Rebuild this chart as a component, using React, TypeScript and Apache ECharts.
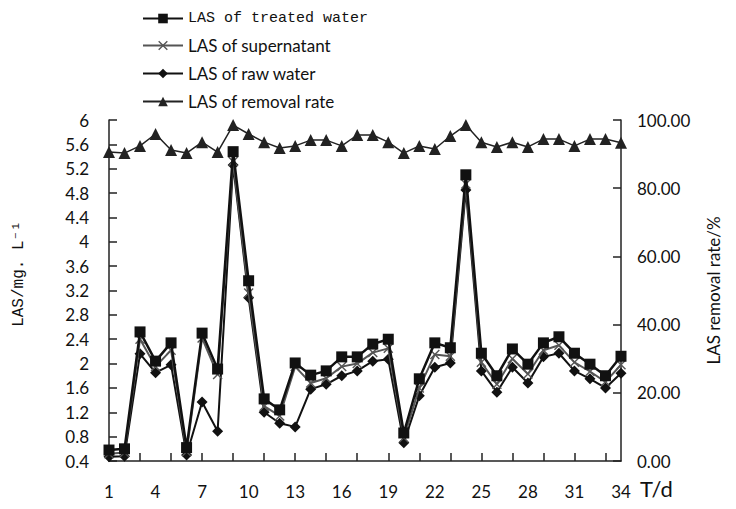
import React, { useEffect, useRef } from "react";
import * as echarts from "echarts";

const days = ["1","2","3","4","5","6","7","8","9","10","11","12","13","14","15","16","17","18","19","20","21","22","23","24","25","26","27","28","29","30","31","32","33","34"];

const treated = [0.58,0.60,2.52,2.04,2.34,0.62,2.50,1.91,5.48,3.36,1.42,1.24,2.01,1.81,1.88,2.11,2.11,2.32,2.40,0.86,1.75,2.34,2.26,5.10,2.17,1.80,2.24,1.99,2.34,2.44,2.17,1.99,1.80,2.12];
const supernatant = [0.52,0.54,2.40,1.95,2.22,0.55,2.42,1.82,5.32,3.16,1.30,1.14,1.95,1.68,1.76,1.95,2.00,2.18,2.25,0.78,1.60,2.15,2.12,4.95,2.02,1.66,2.08,1.83,2.22,2.30,2.02,1.87,1.70,1.98];
const raw = [0.47,0.48,2.16,1.85,1.98,0.50,1.37,0.89,5.26,3.08,1.20,1.02,0.96,1.58,1.66,1.80,1.88,2.04,2.07,0.70,1.47,1.94,2.01,4.85,1.88,1.53,1.94,1.68,2.11,2.17,1.88,1.75,1.60,1.84];
const removalRate = [90.6,90.3,92.4,95.9,91.2,90.3,93.5,90.6,98.5,95.9,93.5,91.8,92.4,94.1,94.1,92.4,95.6,95.6,93.5,90.3,92.4,91.5,95.3,98.5,93.5,92.1,93.5,92.1,94.4,94.4,92.4,94.4,94.4,93.3];

const names = ["LAS of treated water", "LAS of supernatant", "LAS of raw water", "LAS of removal rate"];

const crossPath = "path://M1,0 L5,4 L9,0 L10,1 L6,5 L10,9 L9,10 L5,6 L1,10 L0,9 L4,5 L0,1 Z";

const sans = "Lato, sans-serif";
const mono = "Liberation Mono, monospace";

export default function App() {
  const ref = useRef<HTMLDivElement>(null);
  useEffect(() => {
    if (!ref.current) return;
    const chart = echarts.init(ref.current, undefined, { renderer: "svg" });
    const axisLine = { show: true, lineStyle: { color: "#222", width: 1.5 } };
    const tick = { show: true, inside: true, length: 8, lineStyle: { color: "#222", width: 1.5 } };
    chart.setOption({
      animation: false,
      backgroundColor: "#fff",
      grid: { left: 109, right: 115, top: 120, bottom: 48 },
      legend: {
        orient: "vertical",
        left: 137,
        top: 6,
        itemWidth: 40,
        itemHeight: 12,
        itemGap: 11,
        data: names,
        formatter: (n: string) => (n === names[0] ? `{m|${n}}` : `{s|${n}}`),
        textStyle: {
          color: "#111",
          rich: {
            m: { fontFamily: mono, fontSize: 15, color: "#111", lineHeight: 20, fontWeight: "normal" },
            s: { fontFamily: sans, fontSize: 17, color: "#111", lineHeight: 20 },
          },
        },
      },
      xAxis: {
        type: "category",
        data: days,
        boundaryGap: false,
        axisLine,
        axisTick: { ...tick, interval: (i: number) => i > 0 && i % 2 === 0 && i < 33 },
        axisLabel: { interval: 2, margin: 22, fontSize: 17, color: "#111", fontFamily: sans },
        splitLine: { show: false },
      },
      yAxis: [
        {
          type: "value",
          min: 0.4,
          max: 6,
          interval: 0.4,
          axisLine,
          axisTick: tick,
          splitLine: { show: false },
          axisLabel: { fontSize: 17, color: "#111", fontFamily: sans, margin: 20 },
        },
        {
          type: "value",
          min: 0,
          max: 100,
          interval: 20,
          axisLine,
          axisTick: tick,
          splitLine: { show: false },
          axisLabel: { fontSize: 17, color: "#111", fontFamily: sans, margin: 16, formatter: (v: number) => v.toFixed(2) },
          name: "LAS removal rate/%",
          nameLocation: "middle",
          nameGap: 84,
          nameRotate: 90,
          nameTextStyle: { fontFamily: sans, fontSize: 17, color: "#111" },
        },
      ],
      graphic: [
        { type: "text", left: 640, top: 477, style: { text: "T/d", fontSize: 22, fontFamily: sans, fill: "#111" } },
        {
          type: "text", x: 19, y: 274, rotation: Math.PI / 2,
          style: { text: "LAS/mg. L⁻¹", fontSize: 16, fontFamily: mono, fill: "#111", align: "center", verticalAlign: "middle" },
        },
      ],
      series: [
        {
          name: names[0], type: "line", data: treated, yAxisIndex: 0,
          symbol: "rect", symbolSize: 11, showAllSymbol: true,
          itemStyle: { color: "#111" }, lineStyle: { color: "#111", width: 2.5 }, z: 5,
        },
        {
          name: names[1], type: "line", data: supernatant, yAxisIndex: 0,
          symbol: crossPath, symbolSize: 10, showAllSymbol: true,
          itemStyle: { color: "#555" }, lineStyle: { color: "#555", width: 2 }, z: 4,
        },
        {
          name: names[2], type: "line", data: raw, yAxisIndex: 0,
          symbol: "diamond", symbolSize: 11, showAllSymbol: true,
          itemStyle: { color: "#111" }, lineStyle: { color: "#111", width: 2 }, z: 3,
        },
        {
          name: names[3], type: "line", data: removalRate, yAxisIndex: 1,
          symbol: "triangle", symbolSize: 12, showAllSymbol: true,
          itemStyle: { color: "#222" }, lineStyle: { color: "#222", width: 1.5 }, z: 6,
        },
      ],
    });
    return () => chart.dispose();
  }, []);
  return <div ref={ref} style={{ width: 736, height: 509, position: "absolute", left: 0, top: 0 }} />;
}
